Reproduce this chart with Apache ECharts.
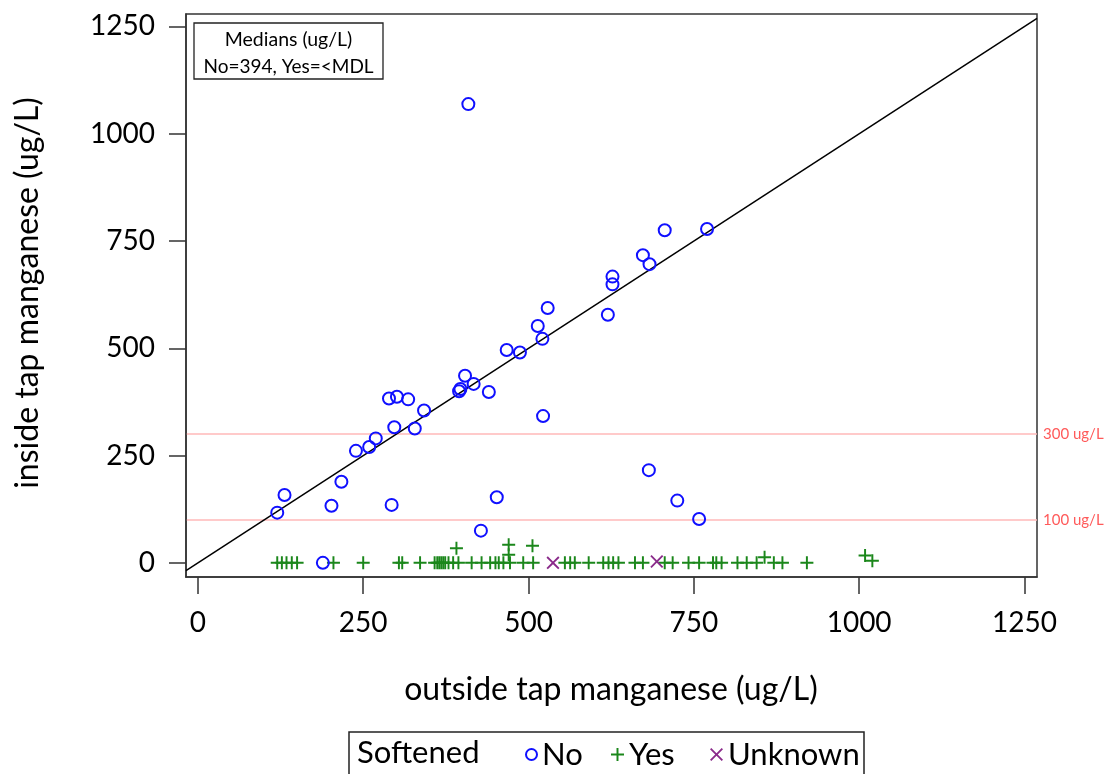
<!DOCTYPE html>
<html><head><meta charset="utf-8">
<script src="https://cdn.jsdelivr.net/npm/echarts@6/dist/echarts.min.js"></script>
<style>html,body{margin:0;padding:0;background:#fff}#c{width:1118px;height:774px}</style>
</head><body><div id="c"></div>
<script>
// ---- data ----
const xTicks = [0, 250, 500, 750, 1000, 1250];
const yTicks = [0, 250, 500, 750, 1000, 1250];

const noOutside = [120,131,189,202,217,239,259,269,289,293,297,301,318,328,342,395,397,404,409,417,428,440,452,467,487,514,521,522,529,620,627,627,673,682,683,706,725,758,770];
const noInside  = [117,158,0,133,189,261,270,290,383,135,316,387,381,313,355,400,405,436,1069,417,75,398,153,496,490,552,522,342,594,578,667,649,717,216,696,775,145,102,778];

const yesOutside = [120,127,134,142,150,205,250,304,309,336,358,362,365,368,371,374,379,386,391,394,414,429,442,450,455,462,470,470,472,492,506,507,555,563,570,591,613,621,628,636,661,673,706,718,742,758,779,784,792,816,830,845,857,871,884,921,1009,1020];
const yesInside  = [0,0,0,0,0,0,0,0,0,0,0,0,0,0,0,0,0,0,34,0,0,0,0,0,0,0,42,19,0,0,40,0,0,0,0,0,0,0,0,0,0,0,0,0,0,0,0,0,0,0,0,0,13,0,0,0,17,5];

const unkOutside = [537, 694];
const unkInside  = [0, 3];

const refLevels = [300, 100];
const refLabels = ['300 ug/L', '100 ug/L'];
const lineExtent = [-18, 1269];

const medianTitle = 'Medians (ug/L)';
const medianText = 'No=394, Yes=<MDL';
const legendTitle = 'Softened';
const seriesNames = ['No', 'Yes', 'Unknown'];
const xTitle = 'outside tap manganese (ug/L)';
const yTitle = 'inside tap manganese (ug/L)';

// ---- chart ----
const zip = (a, b) => a.map((v, i) => [v, b[i]]);
const FONT = 'Lato';
const plusPath = 'path://M8.5,0H11.5V8.5H20V11.5H11.5V20H8.5V11.5H0V8.5H8.5Z';
const xPath = 'path://M0,2L2,0L10,8L18,0L20,2L12,10L20,18L18,20L10,12L2,20L0,18L8,10Z';

const chart = echarts.init(document.getElementById('c'), null, {renderer: 'canvas'});
const axisCommon = {
  type: 'value',
  splitLine: {show: false},
  axisLine: {show: true, onZero: false, lineStyle: {color: '#333', width: 1.5}},
  axisTick: {show: true, inside: false, length: 17, lineStyle: {color: '#333', width: 1.5}},
  axisLabel: {fontSize: 28, color: '#000', fontFamily: FONT, formatter: v => String(v)}
};
const legendText = {fontSize: 31, fontFamily: FONT, color: '#000', padding: [0, 0, 0, 0]};
const option = {
  animation: false,
  backgroundColor: '#fff',
  grid: {left: 186, right: 81, top: 14, bottom: 197, show: true, borderColor: '#333', borderWidth: 1.5, backgroundColor: 'transparent'},
  xAxis: Object.assign({}, axisCommon, {
    min: lineExtent[0], max: lineExtent[1], position: 'bottom',
    axisTick: Object.assign({}, axisCommon.axisTick, {customValues: xTicks}),
    axisLabel: Object.assign({}, axisCommon.axisLabel, {customValues: xTicks, margin: 32})
  }),
  yAxis: Object.assign({}, axisCommon, {
    min: -33, max: 1279, position: 'left',
    axisTick: Object.assign({}, axisCommon.axisTick, {customValues: yTicks}),
    axisLabel: Object.assign({}, axisCommon.axisLabel, {customValues: yTicks, margin: 31})
  }),
  legend: [
    {data: [seriesNames[0]], left: 520, top: 734, itemWidth: 11, itemHeight: 11, itemGap: 0, textStyle: legendText},
    {data: [seriesNames[1]], left: 606, top: 734, itemWidth: 13, itemHeight: 13, itemGap: 0, textStyle: legendText},
    {data: [seriesNames[2]], left: 705, top: 734, itemWidth: 13, itemHeight: 13, itemGap: 0, textStyle: legendText}
  ],
  series: [
    {
      type: 'line', data: [[lineExtent[0], lineExtent[0]], [lineExtent[1], lineExtent[1]]],
      showSymbol: false, silent: true, z: 1,
      lineStyle: {color: '#000', width: 1.5},
      markLine: {
        silent: true, symbol: ['none', 'none'], z: 0,
        lineStyle: {color: '#ffb8b8', width: 1.6, type: 'solid'},
        label: {position: 'end', distance: 6, color: '#ff5a5a', fontSize: 15, fontFamily: FONT},
        data: refLevels.map((v, i) => ({yAxis: v, label: {formatter: refLabels[i]}}))
      }
    },
    {
      name: seriesNames[0], type: 'scatter', data: zip(noOutside, noInside), z: 3,
      symbol: 'circle', symbolSize: 12,
      itemStyle: {color: 'rgba(255,255,255,0)', borderColor: '#1010ff', borderWidth: 2, opacity: 1}
    },
    {
      name: seriesNames[1], type: 'scatter', data: zip(yesOutside, yesInside), z: 2,
      symbol: plusPath, symbolSize: 13,
      itemStyle: {color: '#1b871b', opacity: 1}
    },
    {
      name: seriesNames[2], type: 'scatter', data: zip(unkOutside, unkInside), z: 4,
      symbol: xPath, symbolSize: 13,
      itemStyle: {color: '#8a2a8a', opacity: 1}
    }
  ],
  graphic: [
    {type: 'rect', shape: {x: 194, y: 23, width: 189, height: 56}, style: {fill: '#fff', stroke: '#222', lineWidth: 1.3}, z: 10},
    {type: 'text', x: 288.5, y: 40, z: 11, style: {text: medianTitle, align: 'center', verticalAlign: 'middle', font: '19.5px Lato', fill: '#000'}},
    {type: 'text', x: 288.5, y: 67, z: 11, style: {text: medianText, align: 'center', verticalAlign: 'middle', font: '19px Lato', fill: '#000'}},
    {type: 'rect', shape: {x: 349, y: 732, width: 515, height: 70}, style: {fill: 'none', stroke: '#222', lineWidth: 1.5}, z: 10},
    {type: 'text', x: 357, y: 753, z: 11, style: {text: legendTitle, align: 'left', verticalAlign: 'middle', font: '31px Lato', fill: '#000'}},
    {type: 'text', x: 611, y: 690, z: 11, style: {text: xTitle, align: 'center', verticalAlign: 'middle', font: '32px Lato', fill: '#000'}},
    {type: 'text', x: 28, y: 293, rotation: Math.PI / 2, z: 11, style: {text: yTitle, align: 'center', verticalAlign: 'middle', font: '32px Lato', fill: '#000'}}
  ]
};
chart.setOption(option);
</script>
</body></html>
